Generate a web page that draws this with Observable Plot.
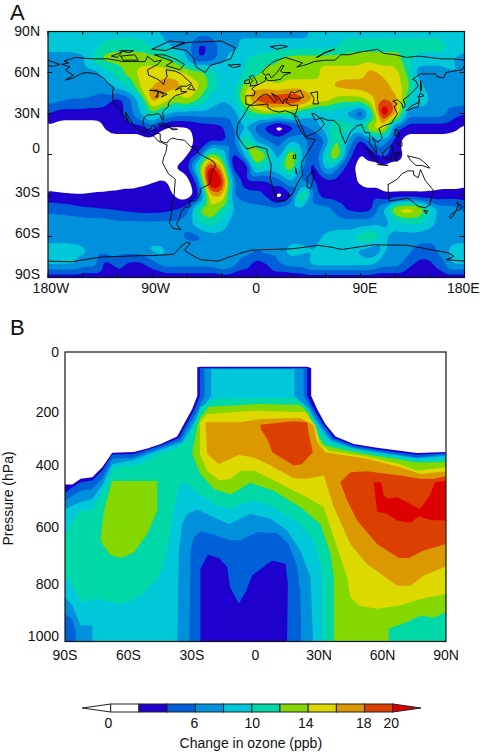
<!DOCTYPE html>
<html><head><meta charset="utf-8">
<script src="https://cdn.jsdelivr.net/npm/d3@7"></script>
<script src="https://cdn.jsdelivr.net/npm/@observablehq/plot@0.6"></script>
<style>
html,body{margin:0;padding:0;background:#fff;width:482px;height:754px;overflow:hidden;font-family:"Liberation Sans",sans-serif}
.p{position:absolute;left:0}
.p svg{display:block;background:transparent}
.tag{position:absolute;font-size:22px;color:#111;line-height:1}
</style></head><body>
<div class="tag" style="left:10px;top:2px">A</div>
<div class="tag" style="left:10px;top:317px">B</div>
<div class="p" id="a" style="top:0"></div>
<div class="p" id="b" style="top:320px"></div>
<div class="p" id="c" style="top:690px"></div>
<script>
// Legend / colour classes (ppb)
const thresholds = [2,4,6,8,10,12,14,16,18,20];
const classColors = ["#ffffff","#1e00cf","#0060d8","#0090dc","#00c8d8","#00d8a8","#84d800","#dcd800","#dc9800","#dc4000","#dc0000"];
const legendLabels = ["0","6","10","14","18","20"];
const legendLabelPos = [-0.2,5.9,10,13.8,17.9,19.85];
const legendClasses = [0,2,4,6,8,10,12,14,16,18];

// Panel A: change in ozone on a 10-degree grid, north to south, 180W to 180E
const mapLons = d3.range(-180,181,10);
const mapLats = d3.range(90,-91,-10);
const r90 = [9,9,9,9,9,9,9,9,9,9, 7,7,7,7,7,7,7,7,7,7, 7,7,7,9,9,9,9,9,9,9, 9,9,9,9,9,9,9];
const r80 = [9,9,9,9,9,10.5,11,11,11,9, 9,7,7,3.5,4,7,7,9,9,9, 9,9,9,9,9,9.5,11,11,11,11, 11,11,11,11,11,9,9];
const r70 = [7,7,7,7.5,11,13,13,13,13,13, 12.5,11,8,3.5,4.5,7,9,10,10.5,11, 12,13,13,13,13,13,13,13,13,13, 13,11,9,9,9,8,7];
const r60 = [8,8,7,7,7,9,11,13,15,15, 15,15,14,13,11,9,9,10,11,13, 13,13,13,13,15,15,15,15,17,15, 15,12,7,7,7,8,8];
const r50 = [7,7,7,7,7,7,9,10,14.5,16, 17.5,17,15,14.5,11.5,9,9,13,15,15, 14,15,15,15,15,16.5,17,17,17.5,17.5, 15,13,9,7,7,7,7];
const r40 = [7,6.5,6,6,5.5,5,3,5,9,17.5, 15.5,13,14.5,12,9,8,9,14,19,20, 20.5,20.5,19,16,15,13,13,13,15,18, 17,11,9,8,7,7,7];
const r30 = [4,3,3,3,3,3,3,5,8,12, 9,7,7,7,7,7,7,10,12,13, 12,12,9,8,9,9,7,3,10,23, 17,7,7,7,7,5,4];
const r20 = [1.5,1,1,1,1,2.2,3,3,3,5, 2,1.5,1.7,2.8,3,3.5,6,8,5,2.6, 0,2.6,5,7,9,11,11,11,15,16, 5,3,3,3,3,2.5,1.5];
const r10 = [1,1,1,1,1,1,1,1,1,1, 1,1,1.3,2.5,3.5,3,5,12.5,7,6, 5,8,8,3.5,6,13,8,3,7,7, 3,1,1,1,1,1,1];
const r00 = [1,1,1,1,1,1,1,1,1,1, 1,1,1.5,4,13,10.5,3,8,16,12, 6.5,15,8,3.5,10,15,5,1.7,3,5, 3,1.5,1,1,1,1,1];
const s10 = [1,1,1,1,1,1,1,1,1,1, 1,2,3,11,22,17,3,0.8,11,9, 10,14,6,3,9,6,3,1,1,1.2, 1,1,1,1,1,1,1];
const s20 = [1,1,1,1,1,1,1,1,1.5,1.9, 2.2,1.6,0.8,5,24,21.5,7,3,3,3.5, 5,8,6,4,3,3,2.5,1.7,1,1, 1,1,1,1,1,1,1.5];
const s30 = [2.5,2.3,2.1,2.1,2.3,2.4,2.6,3,3,3, 3,1.7,0.8,3,16,16.5,6,5,4.5,3.5, 0.3,3.5,14,5,3,3,3,3,3.4,2.3, 2.3,2.3,2.3,2.5,2.9,2.9,2.9];
const s40 = [5.5,5.3,5,4.4,4.2,3.9,3.7,3.3,3,3, 3.2,3.8,5,12.5,14.5,11.5,8,7,7,7, 7,7,7,7,7,5,3.5,3,3.5,8, 15,16,15,10.5,7,7,5.5];
const s50 = [7,7,7,7,7,7,6.5,6.5,6.5,6.5, 6.5,6.5,7,10,11,9,7,7,7,7, 7,7,7,7,7,7,7,7,7,7, 9,10,10.5,9,7,7,7];
const s60 = [7,7,7,7,7,7,7,7,7,7, 7,7,5.5,5.5,7,7,7,7,7,7, 7,7,7,7,8.5,9,9,11,12.5,8.5, 7,7,7,7,7,7,7];
const s70 = [9,9,9,8.5,7,7,7,7,7,8.5, 8.5,5.5,7,7,7,7,7,7,6,7, 7,9,8.5,8,9,9,9,7.5,6.5,8.5, 7,7,5,5,7,9,9];
const s80 = [8.5,8.5,8.5,7,7,3,5,3.5,3.5,5, 7,7,7,7,7,8.5,7,5,3,4, 6,7,7,9,9,9,9,9,9,7, 7,5,3.5,3.5,5,8.5,8.5];
const s90 = mapLons.map(() => 2.5);
const mapRows = [r90,r80,r70,r60,r50,r40,r30,r20,r10,r00,s10,s20,s30,s40,s50,s60,s70,s80,s90];
const mapTable = mapRows.flatMap((row,j)=>row.map((v,i)=>({lon:mapLons[i],lat:mapLats[j],v})));

const lonTicks = [-180,-150,-120,-90,-60,-30,0,30,60,90,120,150,180];
const latTicks = [-90,-60,-30,0,30,60,90];
const lonLabels = ["180W","90W","0","90E","180E"];
const lonLabelPos = [-177.5,-87,0,94,179];
const latLabels = ["90N","60N","30N","0","30S","60S","90S"];
const latLabelPos = [90,60,30,4.5,-27.5,-58,-88];

// Coastlines [lon, lat]
const americas = [[-168,66],[-162,67],[-166,68.5],[-156,71],[-141,70],[-128,70],[-115,68],[-108,68],[-96,68],[-94,72],[-88,68],[-82,69],[-85,66],[-94,62],[-93,58],[-85,55],[-82,53],[-80,51],[-79,55],[-77,57],[-78,62],[-70,61],[-65,59],[-60,55],[-56,52],[-60,50],[-66,50],[-70,47],[-65,49],[-65,46],[-60,46],[-66,44],[-70,43],[-74,40],[-76,37],[-76,35],[-81,31],[-80,26],[-81,25],[-83,29],[-85,30],[-90,29],[-94,29],[-97,27],[-98,22],[-95,18],[-91,19],[-90,21],[-87,21],[-88,16],[-83,15],[-83,10],[-80,9],[-77,8.5],[-75,11],[-72,12],[-68,11],[-62,10.5],[-57,6],[-52,5],[-50,1],[-44,-2],[-37,-5],[-35,-8],[-39,-14],[-39,-18],[-41,-22],[-48,-25],[-48,-28],[-53,-34],[-58,-34],[-57,-38],[-62,-39],[-65,-42],[-66,-46],[-69,-51],[-65,-55],[-72,-54],[-75,-50],[-73,-42],[-73,-37],[-71,-30],[-70,-18],[-76,-14],[-81,-6],[-80,-2],[-78,2],[-77,7],[-80,8],[-85,10],[-88,13],[-94,16],[-100,17],[-105,20],[-109,25],[-113,31],[-113,29],[-110,23],[-115,29],[-117,33],[-121,35],[-124,40],[-124,47],[-123,49],[-128,52],[-132,56],[-138,59],[-147,60],[-152,59],[-158,56],[-165,54.5],[-158,58],[-162,60],[-165,62],[-161,64],[-168,66]];
const eurasia = [[180,69],[170,70],[160,70],[150,71],[140,72],[130,71],[120,73],[110,74],[105,77],[90,75],[80,73],[73,73],[68,69],[60,69],[50,68],[44,66],[40,65],[35,64],[40,67],[33,69],[25,71],[15,68],[8,63],[5,60],[8,58],[11,59],[13,56],[18,60],[22,65],[24,65],[21,61],[23,60],[30,60],[24,58],[21,55],[14,54],[10,54],[8,57],[8,54],[4,52],[-1,50],[-4,48],[-1,46],[-2,43],[-9,43],[-9,37],[-5,36],[0,39],[3,42],[7,44],[10,44],[13,41],[16,38],[18,40],[13,45],[19,42],[23,37],[24,40],[27,41],[26,38],[30,36],[36,36],[35,32],[33,28],[35,28],[39,21],[43,13],[52,16],[59,22],[56,26],[50,30],[48,30],[51,25],[56,27],[62,25],[67,25],[72,21],[73,16],[77,8],[80,14],[82,17],[87,21],[91,22],[94,16],[98,16],[98,8],[103,2],[104,1],[103,8],[100,13],[105,9],[109,12],[106,19],[110,21],[117,23],[122,30],[119,35],[122,37],[118,39],[122,40],[126,37],[127,34],[129,36],[127,40],[132,43],[140,50],[138,54],[135,55],[142,59],[155,59],[156,57],[162,56],[164,60],[178,62],[180,65]];
const chukotka = [[-180,69],[-175,67.5],[-170,66],[-175,64.5],[-180,65]];
const africa = [[32,30],[25,32],[20,31],[15,32],[10,34],[10,37],[0,36],[-6,36],[-10,30],[-16,22],[-17,15],[-13,9],[-8,4],[0,6],[5,5],[9,4],[10,0],[13,-8],[12,-17],[15,-27],[18,-34],[25,-34],[32,-28],[35,-22],[40,-15],[39,-6],[45,2],[51,11],[43,12],[38,18],[33,28],[32,30]];
const madagascar = [[49,-12],[50,-16],[47,-25],[44,-24],[44,-17],[49,-12]];
const australia = [[114,-22],[122,-18],[126,-14],[131,-12],[136,-12],[136,-15],[140,-17],[142,-11],[146,-19],[153,-26],[150,-37],[146,-39],[140,-38],[136,-35],[131,-32],[124,-33],[115,-34],[114,-26],[114,-22]];
const tasmania = [[145,-41],[148,-41],[147,-43.5],[145,-41]];
const nzNorth = [[173,-35],[178,-38],[175,-41],[173,-40],[175,-37],[173,-35]];
const nzSouth = [[173,-41],[171,-44],[168,-47],[167,-45],[173,-41]];
const papua = [[131,-1],[141,-3],[147,-7],[150,-10],[143,-8],[138,-8],[133,-4],[131,-1]];
const borneo = [[109,1],[117,7],[118,1],[116,-4],[110,-2],[109,1]];
const sumatra = [[95,5],[104,-3],[105,-6],[100,-2],[95,5]];
const java = [[105,-7],[114,-8],[106,-7.5],[105,-7]];
const sulawesi = [[120,1],[125,1],[121,-1],[122,-5],[119,-4],[120,1]];
const luzon = [[120,18],[122,18],[124,13],[120,14],[120,18]];
const mindanao = [[122,8],[126,9],[126,6],[122,7],[122,8]];
const honshu = [[130,32],[135,34],[140,35],[141,39],[141,41],[140,38],[133,35],[130,32]];
const hokkaido = [[140,42],[145,43],[142,45],[140,42]];
const sakhalin = [[142,54],[143,49],[142,46],[142,50],[142,54]];
const greenland = [[-73,78],[-60,82],[-30,83],[-18,78],[-22,70],[-40,65],[-44,60],[-52,64],[-54,70],[-60,76],[-73,78]];
const iceland = [[-24,65.5],[-14,66],[-14,64.5],[-20,63.5],[-24,65.5]];
const svalbard = [[12,79],[22,80],[27,79],[18,77],[12,79]];
const novayaZemlya = [[52,71],[58,74],[68,77],[60,75],[55,72],[52,71]];
const britain = [[-5,50],[1,51],[0,54],[-3,58],[-6,57],[-3,54],[-5,52],[-5,50]];
const ireland = [[-10,52],[-6,52],[-6,55],[-10,54],[-10,52]];
const baffin = [[-80,73],[-70,70],[-62,66],[-66,62],[-78,65],[-72,68],[-88,73],[-80,73]];
const victoria = [[-117,72],[-105,73],[-102,69],[-115,69],[-117,72]];
const ellesmere = [[-90,77],[-75,83],[-62,82],[-78,76],[-90,77]];
const banks = [[-125,72],[-116,75],[-120,71],[-125,72]];
const melville = [[-118,76],[-106,76],[-110,74.5],[-118,76]];
const newfoundland = [[-59,48],[-53,47],[-56,51],[-59,48]];
const greatLakes = [[-92,47],[-85,47],[-85,42],[-87,42],[-84,46],[-80,44],[-82,42],[-77,44],[-83,46],[-92,47]];
const cuba = [[-85,22],[-80,23],[-74,20],[-78,20],[-85,22]];
const hispaniola = [[-74,19],[-68,18.5],[-72,18],[-74,19]];
const caspian = [[47,45],[53,46],[53,40],[54,37],[49,37],[50,41],[47,45]];
const blackSea = [[28,42],[30,46],[33,45],[38,47],[41,42],[36,41],[31,41],[28,42]];
const victoriaLake = [[32,-1],[34,0],[34,-3],[32,-3],[32,-1]];
const malawi = [[34,-10],[35,-14],[34.5,-14],[34,-10]];
const lesotho = [[28,-29],[29,-30],[28,-30.5],[27.5,-29.5],[28,-29]];
const antarctica = [[-180,-78],[-160,-78.5],[-134,-75],[-100,-74],[-90,-74],[-71,-73],[-66,-68],[-60,-64],[-57,-65],[-62,-70],[-57,-73],[-48,-77],[-33,-78],[-13,-72],[-4,-70],[31,-69],[54,-66.5],[66,-68],[74,-69.5],[102,-66],[131,-66.5],[166,-72],[171,-74.5],[164,-77],[180,-78]];
const coasts = [americas,eurasia,chukotka,africa,madagascar,australia,tasmania,nzNorth,nzSouth,papua,borneo,sumatra,java,sulawesi,luzon,mindanao,honshu,hokkaido,sakhalin,greenland,iceland,svalbard,novayaZemlya,britain,ireland,baffin,victoria,ellesmere,banks,melville,newfoundland,greatLakes,cuba,hispaniola,caspian,blackSea,victoriaLake,malawi,lesotho,antarctica];

// Panel B: zonal-mean contour outlines, [latitude, pressure hPa]
const floorRight = [[90,1000],[-90,1000]];
const ge2 = [[-90,458],[-86.5,458],[-82.6,438],[-77.1,433],[-72.4,398],[-67.7,348],[-57.4,345],[-51.1,333],[-44.8,318],[-37,292],[-33.8,249],[-29.9,197],[-27.5,151],[-27.5,53],[-26,51],[24.4,51],[26.3,55],[26.3,151],[29.1,197],[33,249],[37.8,292],[46.4,318],[57.4,331],[76.3,349],[90,345],...floorRight];
const ge4 = [[-90,487],[-86.5,467],[-82.6,450],[-77.1,444],[-72.4,410],[-67.7,354],[-57.4,352],[-51.1,338],[-44.8,323],[-36.2,297],[-33,254],[-29.1,203],[-26.3,151],[-26.3,55],[24.4,55],[24.4,151],[27.5,197],[31.9,249],[37,297],[46.4,323],[57.4,337],[76.3,356],[90,350],...floorRight];
const ge6 = [[-90,516],[-86.5,496],[-82.6,479],[-77.1,473],[-72.4,438],[-67.7,369],[-57.4,364],[-51.1,346],[-44.8,331],[-35.4,304],[-31.9,260],[-27.5,203],[-24.1,151],[-24.1,58],[22.8,58],[22.8,151],[26.3,197],[30.7,249],[36.2,301],[46.4,329],[57.4,342],[76.3,364],[90,353],...floorRight];
const ge8 = [[-90,544],[-86.5,530],[-82.6,519],[-77.1,507],[-72.4,461],[-67.7,387],[-57.4,373],[-51.1,354],[-44.8,338],[-34.6,312],[-30.7,266],[-26,203],[-20.9,151],[-20.9,60],[18.4,60],[18.4,151],[25.2,197],[29.4,249],[35.4,306],[46.4,335],[57.4,346],[76.3,367],[90,359],...floorRight];
const ge10 = [[-90,636],[-83.4,548],[-77.1,545],[-71.6,473],[-66.9,398],[-54.3,387],[-46.4,354],[-37,331],[-31.5,300],[-28.3,237],[-26,191],[-19.7,162],[0.8,159],[18.4,159],[24.4,191],[28.3,249],[34.6,314],[44.8,331],[57.4,352],[76.3,374],[90,369],...floorRight];
const ge12 = [[-29.9,352],[-27.5,254],[-26,226],[-22,189],[0.8,180],[21.2,183],[25.2,214],[28.3,283],[33,323],[43.3,341],[57.4,359],[76.3,382],[90,381],[90,899],[84,918],[77.9,910],[71.6,933],[62.9,956],[62.9,1000],[37,1000],[37,778],[35.4,697],[30.7,594],[21.2,536],[8.7,479],[-2.4,452],[-11.8,492],[-19.7,473],[-26,421]];
const ge12Blob = [[-67.7,446],[-46.4,446],[-46.4,548],[-51.1,628],[-57.4,692],[-62.9,711],[-68.4,703],[-72.4,663],[-73.2,646],[-71.6,548]];
const ge14 = [[-26.3,352],[-26.3,243],[-22.8,214],[0.8,203],[23.6,208],[28.3,254],[30.7,318],[34.6,341],[52.7,361],[68.4,389],[76.3,410],[90,398],[90,835],[77.9,853],[68.4,876],[57.4,887],[48.8,876],[44.8,847],[43.3,778],[37,640],[32.3,536],[24.4,502],[18.1,479],[8.7,444],[-0.8,410],[-7.1,410],[-11.8,438],[-17.3,444],[-22.8,410]];
const ge16 = [[-23.6,243],[-7.1,243],[2.4,231],[21.2,228],[27.5,254],[29.1,312],[33,346],[52.7,369],[68.4,398],[77.9,421],[90,412],[90,741],[79.5,772],[73.2,807],[66.9,807],[52.7,732],[44.8,663],[37,536],[32.3,427],[24.4,438],[18.1,436],[7.1,392],[-0.8,364],[-7.9,356],[-17.3,387],[-22.8,352]];
const ge18Upper = [[2.4,251],[18.1,239],[24.4,243],[25.2,283],[27.1,346],[22,387],[18.1,392],[7.9,346],[5.5,300],[2.4,266]];
const ge18Lower = [[40.1,450],[44.8,415],[52.7,412],[68.4,427],[77.9,438],[84.2,438],[90,429],[90,663],[79.5,686],[72.4,712],[67.7,712],[57.4,663],[48,582],[43.3,513]];
const ge20 = [[55.9,450],[59.3,450],[60.6,496],[62.9,507],[66.9,502],[71.6,519],[77.6,542],[81.8,502],[84.9,450],[90,446],[90,582],[82.6,580],[77.1,568],[73.2,590],[66.9,582],[62.1,559],[57.4,551]];
const lt10 = [[-90,766],[-81.8,864],[-74.7,853],[-62.9,872],[-52.7,835],[-44.8,766],[-40.9,651],[-38.5,536],[-36.2,467],[-33.8,450],[-26,496],[-18.1,530],[-12.6,542],[-2.4,513],[5.5,525],[13.4,559],[21.2,594],[27.5,651],[31.5,755],[31.8,1000],[-90,1000]];
const lt8Corner = [[-90,847],[-86.5,876],[-82.6,945],[-77.1,945],[-77.1,1000],[-90,1000]];
const lt8 = [[-37,1000],[-36.2,686],[-34.6,594],[-32.3,559],[-27.5,544],[-19.7,571],[-12.6,594],[-2.4,559],[7.1,576],[14.9,617],[21.2,686],[26,778],[27.2,1000]];
const lt6Corner = [[-90,905],[-86.5,922],[-85,962],[-85,1000],[-90,1000]];
const lt6 = [[-31.2,1000],[-30.7,686],[-29.1,640],[-26,620],[-19.7,631],[-11.8,651],[-7.1,649],[0.8,622],[10.2,626],[15.7,663],[19.7,743],[21.2,835],[21.6,1000]];
const lt4 = [[-26,1000],[-26,749],[-22.5,700],[-17.3,712],[-13.4,743],[-12.1,812],[-7.9,870],[-4.7,830],[-1.6,772],[7.9,720],[14.2,732],[15.3,801],[14.9,1000]];
// [outline, class value], painted in this order
const sectionLayers = [[ge2,3],[ge4,5],[ge6,7],[ge8,9],[ge10,11],[ge12,13],[ge12Blob,13],[ge14,15],[ge16,17],[ge18Upper,19],[ge18Lower,19],[ge20,21],[lt10,9],[lt8Corner,7],[lt8,7],[lt6Corner,5],[lt6,5],[lt4,3]];

const sectionLatLabels = ["90S","60S","30S","0","30N","60N","90N"];
const sectionLatPos = [-90,-60,-30,0,30,60,90];
const pressureLabels = ["0","200","400","600","800","1000"];
const pressureLabelPos = [3,208,392,605,804,982];

const font = {fontFamily:'"Liberation Sans",sans-serif',fontSize:14,fill:"#111"};
const color = {type:"threshold",domain:thresholds,range:classColors};

// Panel A
const aH = 298;
const panelA = Plot.plot({
  width:482,height:aH,marginTop:31,marginBottom:21,marginLeft:47.5,marginRight:18,
  style:{background:"transparent",overflow:"visible"},
  x:{domain:[-180,180],axis:null},y:{domain:[-90,90],axis:null},color,
  marks:[
    Plot.contour(mapTable,{x:"lon",y:"lat",fill:"v",interpolate:"barycentric",pixelSize:2,blur:1,thresholds,clip:true}),
    Plot.line(coasts.flatMap((c,i)=>c.map(p=>({lon:p[0],lat:p[1],id:i}))),{x:"lon",y:"lat",z:"id",stroke:"#000",strokeWidth:0.9,clip:true}),
    Plot.tickX(lonTicks,{x:d=>d,insetBottom:aH-31-21-4,stroke:"#111"}),
    Plot.tickX(lonTicks,{x:d=>d,insetTop:aH-31-21-4,stroke:"#111"}),
    Plot.tickY(latTicks,{y:d=>d,insetRight:416-4,stroke:"#111"}),
    Plot.tickY(latTicks,{y:d=>d,insetLeft:416-4,stroke:"#111"}),
    Plot.frame({stroke:"#111",strokeWidth:1.2}),
    Plot.text(lonLabels,{x:(d,i)=>lonLabelPos[i],frameAnchor:"bottom",lineAnchor:"middle",dy:11,text:d=>d,...font}),
    Plot.text(latLabels,{x:()=>-180,y:(d,i)=>latLabelPos[i],text:d=>d,textAnchor:"end",dx:-8,...font})
  ]
});
document.getElementById("a").append(panelA);

// Panel B
const bH = 360;
const panelB = Plot.plot({
  width:482,height:bH,marginTop:31.5,marginBottom:bH-321,marginLeft:64.5,marginRight:36.5,
  style:{background:"transparent",overflow:"visible"},
  x:{domain:[-90,90],axis:null},y:{domain:[0,1000],reverse:true,axis:null},color,
  marks:[
    ...sectionLayers.map(([outline,value])=>Plot.line(outline,{x:d=>d[0],y:d=>d[1],fill:()=>value,stroke:null,strokeWidth:0,clip:true})),
    Plot.frame({stroke:"#111",strokeWidth:1.2}),
    Plot.text(sectionLatLabels,{x:(d,i)=>sectionLatPos[i],frameAnchor:"bottom",lineAnchor:"middle",dy:14,text:d=>d,...font}),
    Plot.text(pressureLabels,{x:()=>-90,y:(d,i)=>pressureLabelPos[i],text:d=>d,textAnchor:"end",dx:-6,...font}),
    Plot.text(["Pressure (hPa)"],{frameAnchor:"left",textAnchor:"middle",lineAnchor:"middle",dx:-56,y:()=>506,rotate:-90,text:d=>d,...font})
  ]
});
document.getElementById("b").append(panelB);

// Legend
const panelC = Plot.plot({
  width:482,height:64,marginTop:14,marginBottom:42,marginLeft:82.5,marginRight:61,
  style:{background:"transparent",overflow:"visible"},
  x:{domain:[-2,22],axis:null},y:{domain:[0,1],axis:null},color,
  marks:[
    Plot.areaY([[-2,.5,.5],[0,0,1]],{x:d=>d[0],y1:d=>d[1],y2:d=>d[2],fill:"#fff",stroke:"#222",strokeWidth:1}),
    Plot.areaY([[20,0,1],[22,.5,.5]],{x:d=>d[0],y1:d=>d[1],y2:d=>d[2],fill:"#dc0000",stroke:"#222",strokeWidth:1}),
    Plot.rect(legendClasses,{x1:d=>d,x2:d=>d+2,y1:()=>0,y2:()=>1,fill:d=>d,stroke:"#222",strokeWidth:1}),
    Plot.text(legendLabels,{x:(d,i)=>legendLabelPos[i],frameAnchor:"bottom",lineAnchor:"middle",dy:11,text:d=>d,...font}),
    Plot.text(["Change in ozone (ppb)"],{x:()=>9.9,frameAnchor:"bottom",lineAnchor:"middle",dy:31,text:d=>d,...font})
  ]
});
document.getElementById("c").append(panelC);
</script>
</body></html>
